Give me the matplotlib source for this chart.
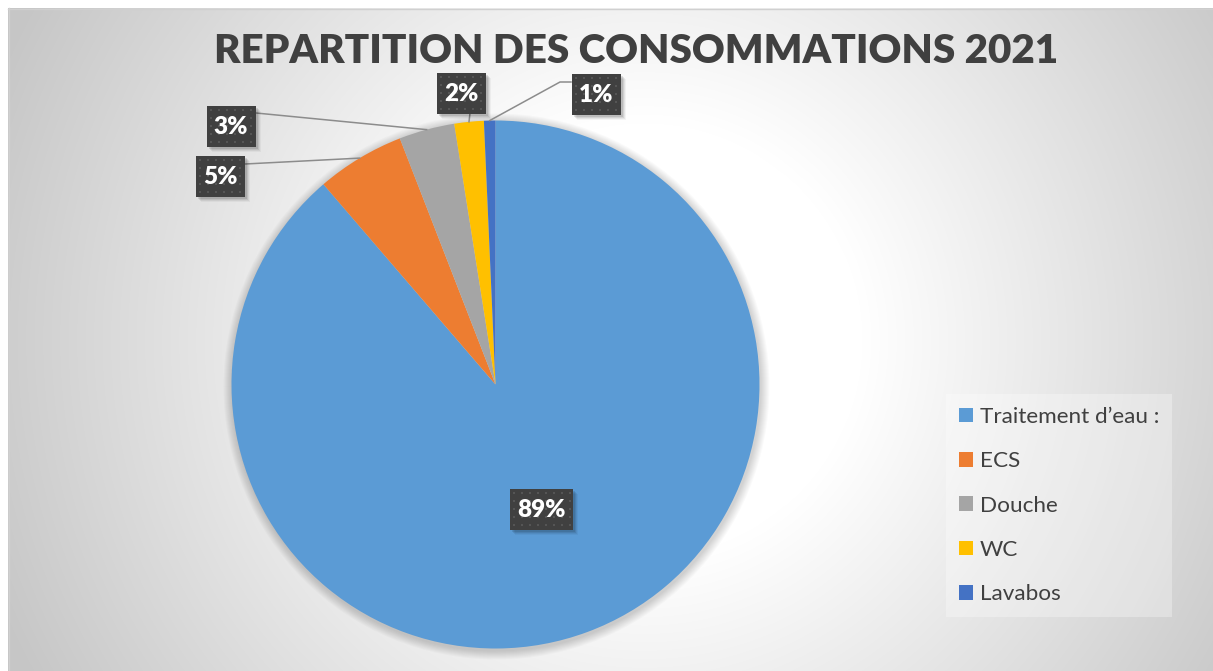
import numpy as np
import matplotlib.pyplot as plt
from matplotlib.patches import Rectangle, Circle

plt.rcParams['font.family'] = ['Lato', 'DejaVu Sans']

# data
labels = ["Traitement d’eau :", "ECS", "Douche", "WC", "Lavabos"]
values = [88.7, 5.4, 3.4, 1.8, 0.7]
colors = ["#5B9BD5", "#ED7D31", "#A5A5A5", "#FFC000", "#4472C4"]
title = "REPARTITION DES CONSOMMATIONS 2021"

# layout (pixels)
W, H = 1213, 671
cx, cy, R = 495.5, 384.5, 264
box_centers = [(541, 509), (220, 176), (231, 126), (461, 93), (596, 94)]
leader_ends = {1: [(245, 164)], 2: [(256, 113)], 3: [(470, 113)],
               4: [(560, 82), (571, 82)]}
text_dark = "#404040"

fig = plt.figure(figsize=(W / 100, H / 100), dpi=100)

# background with radial gradient
bg = fig.add_axes([0, 0, 1, 1], zorder=0)
bg.set_xlim(0, W)
bg.set_ylim(H, 0)
bg.axis('off')
yy, xx = np.mgrid[0:H, 0:W]
d = np.hypot(xx - 640, yy - 336)
t = np.clip((d - 220) / 480, 0, 1)
g = 1 - 0.22 * t
bg.imshow(np.dstack([g, g, g]), extent=[8, W, H, 8], aspect='auto')
bg.plot([8, W], [8.5, 8.5], color="#d0d0d0", lw=1)
bg.plot([8.5, 8.5], [8, H], color="#d0d0d0", lw=1)
bg.set_xlim(0, W)
bg.set_ylim(H, 0)

# soft shadow around the pie
for k in range(1, 10):
    bg.add_patch(Circle((cx + 1, cy + 2), R + k, color="black",
                        alpha=0.018, lw=0))

# pie
pax = fig.add_axes([(cx - R) / W, (H - cy - R) / H, 2 * R / W, 2 * R / H],
                   zorder=1)
wedges, _ = pax.pie(values, colors=colors, startangle=90, counterclock=False,
                    radius=1, wedgeprops=dict(linewidth=0))
pax.set_xlim(-1, 1)
pax.set_ylim(-1, 1)
pax.axis('off')

# overlay for labels
ov = fig.add_axes([0, 0, 1, 1], zorder=2)
ov.set_xlim(0, W)
ov.set_ylim(H, 0)
ov.axis('off')
ov.patch.set_alpha(0)

total = sum(values)
cum = np.cumsum(values)
for i, v in enumerate(values):
    mid = np.radians(360 * (cum[i] - v / 2) / total)
    ax_, ay_ = cx + R * np.sin(mid), cy - R * np.cos(mid)
    if i in leader_ends:
        pts = [(ax_, ay_)] + leader_ends[i]
        ov.plot([p[0] for p in pts], [p[1] for p in pts],
                color="#8c8c8c", lw=1.1, zorder=3)

    txt = f"{round(v / total * 100)}%"
    bx, by = box_centers[i]
    w = 49 if len(txt) == 2 else 63
    h = 41
    # shadow
    for k, a in [(2, 0.10), (3, 0.08), (4, 0.06), (5, 0.04)]:
        ov.add_patch(Rectangle((bx - w / 2 + k, by - h / 2 + k), w, h,
                               fc="black", alpha=a, lw=0, zorder=4))
    ov.add_patch(Rectangle((bx - w / 2, by - h / 2), w, h,
                           fc="#404040", lw=0, zorder=5))
    # dotted texture
    dx = np.arange(bx - w / 2 + 4, bx + w / 2 - 2, 8)
    dy = np.arange(by - h / 2 + 4, by + h / 2 - 2, 8)
    px, py = np.meshgrid(dx, dy)
    ov.scatter(px.ravel(), py.ravel(), s=2, c="#555555", marker='s',
               lw=0, zorder=6)
    ov.text(bx, by + 1, txt, color="white", fontsize=17.5, fontweight='heavy',
            ha='center', va='center', zorder=7)

# title, fitted to the reference width
tt = ov.text(636.5, 63, title, color=text_dark, fontsize=30,
             fontweight='heavy', ha='center', va='baseline')
renderer = fig.canvas.get_renderer()
bw = tt.get_window_extent(renderer).width
tt.set_fontsize(30 * 843 / bw)

# legend
leg = fig.legend(wedges, labels, loc='upper left',
                 bbox_to_anchor=(946 / W, 1 - 394 / H),
                 borderaxespad=0, frameon=True, fancybox=False,
                 fontsize=16.2, labelspacing=1.08, handlelength=0.62,
                 handleheight=0.62, handletextpad=0.3, borderpad=0.58)
leg.get_frame().set_facecolor("white")
leg.get_frame().set_alpha(0.3)
leg.get_frame().set_linewidth(0)
for tx in leg.get_texts():
    tx.set_color(text_dark)

fig.savefig("out.png", dpi=100)
